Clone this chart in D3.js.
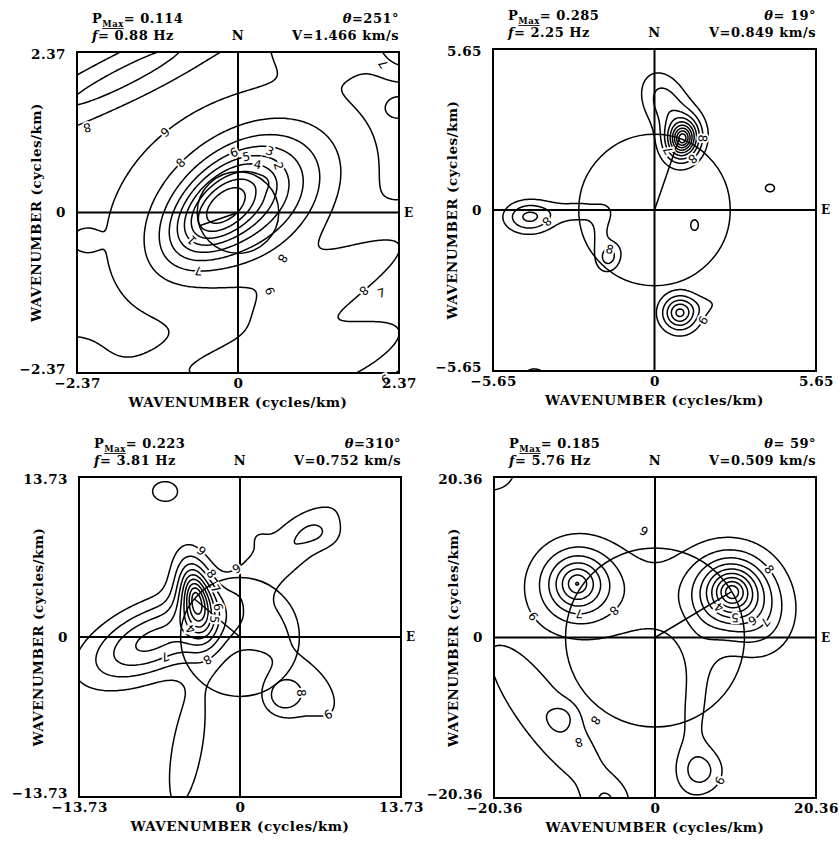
<!DOCTYPE html>
<html>
<head>
<meta charset="utf-8">
<script src="https://cdn.jsdelivr.net/npm/d3@7"></script>
<style>
  body { margin: 0; background: #fff; }
  svg { display: block; }
  .hdr { font-family: "DejaVu Serif", serif; font-weight: bold; white-space: pre; letter-spacing: 0.5px; }
  .clab { font-family: "DejaVu Sans", sans-serif; }
</style>
</head>
<body>
<svg id="chart" width="839" height="843"></svg>
<script>
// ---- per-panel header values ----
const pMax      = [0.114, 0.285, 0.223, 0.185];
const freqHz    = [0.88, 2.25, 3.81, 5.76];
const thetaDeg  = [251, 19, 310, 59];
const velocity  = [1.466, 0.849, 0.752, 0.509];
const kMax      = [2.37, 5.65, 13.73, 20.36];

// contour levels (fraction of peak power) and the numbers written on them
const levels      = [0.1, 0.2, 0.3, 0.4, 0.5, 0.6, 0.7, 0.8, 0.9];
const levelLabels = ["9", "8", "7", "6", "5", "4", "3", "2", "1"];

// spectral lobes, wavenumber units (cycles/km):
// [kx, ky, amplitude, sigmaMajor, sigmaMinor, angleDeg, shape]
const lobes1 = [
  [-0.30,  0.05,  0.50, 0.55, 0.30,  45, 2],
  [ 0.15,  0.20,  0.50, 0.85, 0.55,  35, 2],
  [ 0.00,  0.00,  0.15, 1.40, 1.10,  30, 2],
  [ 0.40,  0.45,  0.05, 0.08, 0.08,   0, 2],
  [-1.70,  2.00,  0.20, 1.60, 0.22,  27, 2],
  [ 1.30,  2.55,  0.14, 0.55, 0.35,   0, 2],
  [ 2.50,  2.50,  0.30, 0.30, 0.30,   0, 2],
  [ 2.37,  1.55,  0.12, 0.12, 0.10,   0, 2],
  [-2.25, -0.41,  0.12, 0.12, 0.10,   0, 2],
  [ 1.40, -2.20,  0.25, 1.20, 0.35,  25, 2],
  [ 1.50, -1.00,  0.20, 1.40, 0.35,  30, 2],
  [-2.50, -2.50,  0.12, 0.50, 0.50,   0, 2],
  [-0.40, -2.30,  0.12, 1.00, 0.25,  10, 2]
];
const lobes2 = [
  [ 0.98,  2.50,  1.00, 0.40, 0.32,  80, 1.5],
  [ 0.35,  3.80,  0.25, 0.80, 0.55, 115, 2],
  [-4.40, -0.25,  0.32, 0.60, 0.40,   0, 2],
  [-2.60, -0.05,  0.14, 0.90, 0.35,   0, 2],
  [-1.58, -1.65,  0.24, 0.40, 0.30,  70, 2],
  [-1.90, -0.80,  0.12, 0.60, 0.25,  80, 2],
  [ 4.04,  0.77,  0.12, 0.30, 0.25,   0, 2],
  [ 1.40, -0.53,  0.13, 0.20, 0.28,   0, 2],
  [ 0.88, -3.61,  0.55, 0.40, 0.40,   0, 1.7],
  [ 2.00, -3.30,  0.08, 0.60, 0.30,  10, 2],
  [-4.20, -5.75,  0.15, 0.35, 0.20,   0, 2]
];
const lobes3 = [
  [-3.75,  3.32,  0.85, 1.90, 0.85, 100, 1.6],
  [-7.50, -0.30,  0.45, 4.20, 2.00,  25, 2],
  [-4.50, -9.50,  0.15, 6.00, 1.50,  80, 2],
  [ 4.00,  7.50,  0.20, 4.50, 1.50,  40, 2],
  [ 7.00,  8.80,  0.08, 1.00, 1.50,  80, 2],
  [ 1.50,  8.60,  0.06, 0.70, 0.70,   0, 2],
  [-6.40, 12.50,  0.14, 1.10, 1.40,  90, 2],
  [ 2.13,  1.36,  0.05, 0.50, 0.50,   0, 2],
  [ 1.00,  1.00,  0.12, 3.00, 2.00,   0, 2],
  [ 3.58, -5.10,  0.22, 1.20, 1.20,   0, 2],
  [ 6.00, -4.50,  0.14, 3.50, 2.00, -50, 2]
];
const lobes4 = [
  [  9.73,  5.82, 1.00, 2.20, 2.20,   0, 1.4],
  [ -9.86,  6.83, 0.72, 2.30, 2.30,   0, 1.4],
  [ 13.50,  2.00, 0.15, 3.00, 3.50,   0, 2],
  [  0.00,  5.00, 0.13,10.00, 5.00,   0, 2],
  [  5.00, -9.00, 0.13, 8.00, 2.00,  85, 2],
  [  6.00,-17.00, 0.22, 2.00, 2.00,   0, 2],
  [-13.50,-10.50, 0.20,10.00, 2.80, -52, 2],
  [-11.50,-10.00, 0.10, 1.30, 1.30,   0, 2],
  [ -6.20,-21.00, 0.15, 2.00, 2.00,   0, 2],
  [-21.00, 21.00, 0.15, 4.00, 3.00,   0, 2]
];
const backgroundLevel = [0.05, 0, 0, 0];

// contour label anchors: [kx, ky, level label]
const labels1 = [[-0.93,1.02,"9"],[-0.88,0.77,"8"],[-2.22,1.25,"8"],[-0.07,0.91,"6"],[0.10,0.91,"5"],
  [0.29,0.91,"4"],[0.47,0.91,"3"],[0.60,0.69,"2"],[-0.68,-0.41,"1"],[-0.59,-1.03,"7"],[0.66,-0.68,"8"],
  [2.14,2.19,"7"],[2.09,-2.33,"9"],[1.97,-1.25,"8"],[2.11,-1.19,"7"],[0.47,-1.16,"9"]];
const labels2 = [[2.28,2.46,"8"],[1.44,1.68,"8"],[0.39,2.04,"7"],[-1.40,-1.12,"8"],[-3.58,-0.74,"8"],[1.79,-3.93,"9"]];
const labels3 = [[-2.3,8.27,"9"],[-0.85,6.99,"9"],[-2.3,5.54,"8"],[-2.73,3.84,"7"],[-1.96,2.56,"6"],
  [-1.7,1.45,"5"],[-4.43,0.43,"4"],[-6.82,-0.68,"7"],[-2.64,-2.2,"8"],[6.4,-4.77,"8"],[7.67,-7.08,"9"]];
const labels4 = [[-1.39,13.5,"9"],[-14.0,3.67,"9"],[-5.56,3.79,"8"],[-9.6,2.4,"7"],[14.7,8.85,"8"],
  [8.1,3.8,"4"],[10.0,0.88,"5"],[12.8,1.14,"6"],[14.0,1.9,"7"],[-7.5,-10.5,"8"],[-9.6,-13.3,"8"],[9.9,-19.0,"9"]];

const lobes  = [lobes1, lobes2, lobes3, lobes4];
const labels = [labels1, labels2, labels3, labels4];

// plot frames in page pixels
const frames = [
  {x0: 77,  x1: 399, y0: 52,  y1: 373},
  {x0: 493, x1: 816, y0: 49,  y1: 371},
  {x0: 79,  x1: 401, y0: 477, y1: 797},
  {x0: 494, x1: 816, y0: 477, y1: 798}
];

const svg = d3.select("#chart");
const N = 181;
const minus = s => s.replace("-", "\u2212");

function makeField(list, bg) {
  const prep = list.map(([kx, ky, amp, sa, sb, ang, shape]) => {
    const t = ang * Math.PI / 180;
    return {kx, ky, amp, sa, sb, c: Math.cos(t), s: Math.sin(t), p: shape / 2};
  });
  return (x, y) => {
    let v = bg;
    for (const L of prep) {
      const dx = x - L.kx, dy = y - L.ky;
      const a = (dx * L.c + dy * L.s) / L.sa;
      const b = (-dx * L.s + dy * L.c) / L.sb;
      v += L.amp * Math.exp(-0.5 * Math.pow(a * a + b * b, L.p));
    }
    return v;
  };
}

frames.forEach((fr, i) => {
  const K = kMax[i];
  const xs = d3.scaleLinear([-K, K], [fr.x0, fr.x1]);
  const ys = d3.scaleLinear([-K, K], [fr.y1, fr.y0]);
  const raw = makeField(lobes[i], backgroundLevel[i]);

  // sample the spectrum on a regular grid (row 0 = top, +ky)
  const values = new Float64Array(N * N);
  let vmax = -Infinity;
  for (let j = 0; j < N; j++) {
    const ky = K - 2 * K * j / (N - 1);
    for (let c = 0; c < N; c++) {
      const kx = -K + 2 * K * c / (N - 1);
      const v = raw(kx, ky);
      values[j * N + c] = v;
      if (v > vmax) vmax = v;
    }
  }
  for (let t = 0; t < values.length; t++) values[t] /= vmax;
  const field = (x, y) => raw(x, y) / vmax;

  const g = svg.append("g");
  const clipId = "clip" + i;
  g.append("clipPath").attr("id", clipId).append("rect")
    .attr("x", fr.x0).attr("y", fr.y0).attr("width", fr.x1 - fr.x0).attr("height", fr.y1 - fr.y0);

  const proj = d3.geoTransform({
    point(px, py) {
      const kx = -K + 2 * K * (px - 0.5) / (N - 1);
      const ky = K - 2 * K * (py - 0.5) / (N - 1);
      this.stream.point(xs(kx), ys(ky));
    }
  });
  const path = d3.geoPath(proj);
  const contours = d3.contours().size([N, N]).thresholds(levels)(values);

  const plot = g.append("g").attr("clip-path", `url(#${clipId})`);
  plot.selectAll("path.c").data(contours).join("path")
    .attr("class", "c")
    .attr("d", path)
    .attr("fill", "none")
    .attr("stroke", "#000")
    .attr("stroke-width", 1.5)
    .attr("stroke-linejoin", "round");

  // slowness circle and back-azimuth line to the peak
  const kr = freqHz[i] / velocity[i];
  const th = thetaDeg[i] * Math.PI / 180;
  plot.append("circle")
    .attr("cx", xs(0)).attr("cy", ys(0)).attr("r", xs(kr) - xs(0))
    .attr("fill", "none").attr("stroke", "#000").attr("stroke-width", 1.5);
  plot.append("line")
    .attr("x1", xs(0)).attr("y1", ys(0))
    .attr("x2", xs(kr * Math.sin(th))).attr("y2", ys(kr * Math.cos(th)))
    .attr("stroke", "#000").attr("stroke-width", 1.5);

  // N-S and E-W axes through the origin
  g.append("line").attr("x1", xs(0)).attr("x2", xs(0)).attr("y1", fr.y0).attr("y2", fr.y1)
    .attr("stroke", "#000").attr("stroke-width", 2);
  g.append("line").attr("x1", fr.x0).attr("x2", fr.x1).attr("y1", ys(0)).attr("y2", ys(0))
    .attr("stroke", "#000").attr("stroke-width", 2);
  g.append("rect").attr("x", fr.x0).attr("y", fr.y0)
    .attr("width", fr.x1 - fr.x0).attr("height", fr.y1 - fr.y0)
    .attr("fill", "none").attr("stroke", "#000").attr("stroke-width", 2);

  // contour labels, snapped onto their level and turned along the line
  const h = K * 1e-3;
  labels[i].forEach(([lx, ly, txt]) => {
    const L = levels[levelLabels.indexOf(txt)];
    let x = lx, y = ly, gx = 0, gy = 0;
    for (let it = 0; it < 12; it++) {
      gx = (field(x + h, y) - field(x - h, y)) / (2 * h);
      gy = (field(x, y + h) - field(x, y - h)) / (2 * h);
      const g2 = gx * gx + gy * gy;
      if (g2 < 1e-12) break;
      const step = (L - field(x, y)) / g2;
      let dx = step * gx, dy = step * gy;
      const len = Math.hypot(dx, dy), maxStep = 0.05 * K;
      if (len > maxStep) { dx *= maxStep / len; dy *= maxStep / len; }
      x += dx; y += dy;
    }
    if (Math.abs(field(x, y) - L) > 0.02 || Math.hypot(x - lx, y - ly) > 0.12 * K) { x = lx; y = ly; }
    // screen gradient: +x right, +y down
    const sgx = gx, sgy = -gy;
    const ang = Math.atan2(-sgx, sgy) * 180 / Math.PI;
    g.append("text").attr("class", "clab")
      .attr("transform", `translate(${xs(x)},${ys(y)}) rotate(${ang})`)
      .attr("text-anchor", "middle").attr("dy", "0.36em")
      .attr("font-size", 12)
      .attr("fill", "#000").attr("stroke", "#fff").attr("stroke-width", 4)
      .attr("paint-order", "stroke")
      .text(txt);
  });

  // axes with end and centre ticks
  const fmt = d => d === 0 ? "0" : minus(d.toFixed(2));
  const ax = g.append("g").attr("transform", `translate(0,${fr.y1})`)
    .call(d3.axisBottom(xs).tickValues([-K, 0, K]).tickFormat(fmt).tickSize(0).tickPadding(5));
  ax.select(".domain").remove();
  ax.attr("font-family", "DejaVu Serif, serif").attr("font-size", 13.5).attr("font-weight", "bold")
    .attr("letter-spacing", "0.5px");

  const ay = g.append("g").attr("transform", `translate(${fr.x0},0)`)
    .call(d3.axisLeft(ys).tickValues([-K, 0, K]).tickFormat(fmt).tickSize(0).tickPadding(11));
  ay.select(".domain").remove();
  ay.attr("font-family", "DejaVu Serif, serif").attr("font-size", 13.5).attr("font-weight", "bold")
    .attr("letter-spacing", "0.5px");
  ay.selectAll(".tick text").attr("dy", d => d === K ? "6px" : d === -K ? "0px" : "0.32em");

  const title = "WAVENUMBER (cycles/km)";
  g.append("text").attr("class", "hdr")
    .attr("x", xs(0)).attr("y", fr.y1 + 34).attr("text-anchor", "middle")
    .attr("font-size", 13).attr("textLength", 219).attr("lengthAdjust", "spacingAndGlyphs")
    .text(title);
  g.append("text").attr("class", "hdr")
    .attr("transform", `translate(${fr.x0 - 36},${ys(0)}) rotate(-90)`)
    .attr("text-anchor", "middle")
    .attr("font-size", 13).attr("textLength", 219).attr("lengthAdjust", "spacingAndGlyphs")
    .text(title);

  // header lines
  const t1 = g.append("text").attr("class", "hdr").attr("x", fr.x0 + 15).attr("y", fr.y0 - 29).attr("font-size", 13);
  t1.append("tspan").text("P");
  t1.append("tspan").attr("font-size", 8.5).attr("dy", 4).attr("text-decoration", "underline").text("Max");
  t1.append("tspan").attr("dy", -4).text("= " + pMax[i].toFixed(3));

  const t2 = g.append("text").attr("class", "hdr").attr("x", fr.x0 + 15).attr("y", fr.y0 - 12).attr("font-size", 13);
  t2.append("tspan").attr("font-style", "italic").text("f");
  t2.append("tspan").text("= " + freqHz[i].toFixed(2) + " Hz");

  const t3 = g.append("text").attr("class", "hdr").attr("x", fr.x1).attr("y", fr.y0 - 29)
    .attr("text-anchor", "end").attr("font-size", 13);
  t3.append("tspan").attr("font-style", "italic").text("\u03b8");
  t3.append("tspan").text("=" + String(thetaDeg[i]).padStart(3, " ") + "\u00b0");

  g.append("text").attr("class", "hdr").attr("x", fr.x1).attr("y", fr.y0 - 12)
    .attr("text-anchor", "end").attr("font-size", 13)
    .text("V=" + velocity[i].toFixed(3) + " km/s");

  g.append("text").attr("class", "hdr").attr("x", xs(0)).attr("y", fr.y0 - 12)
    .attr("text-anchor", "middle").attr("font-size", 13).text("N");
  g.append("text").attr("class", "hdr").attr("x", fr.x1 + 5).attr("y", ys(0)).attr("dy", "0.35em")
    .attr("font-size", 12).text("E");
});
</script>
</body>
</html>
